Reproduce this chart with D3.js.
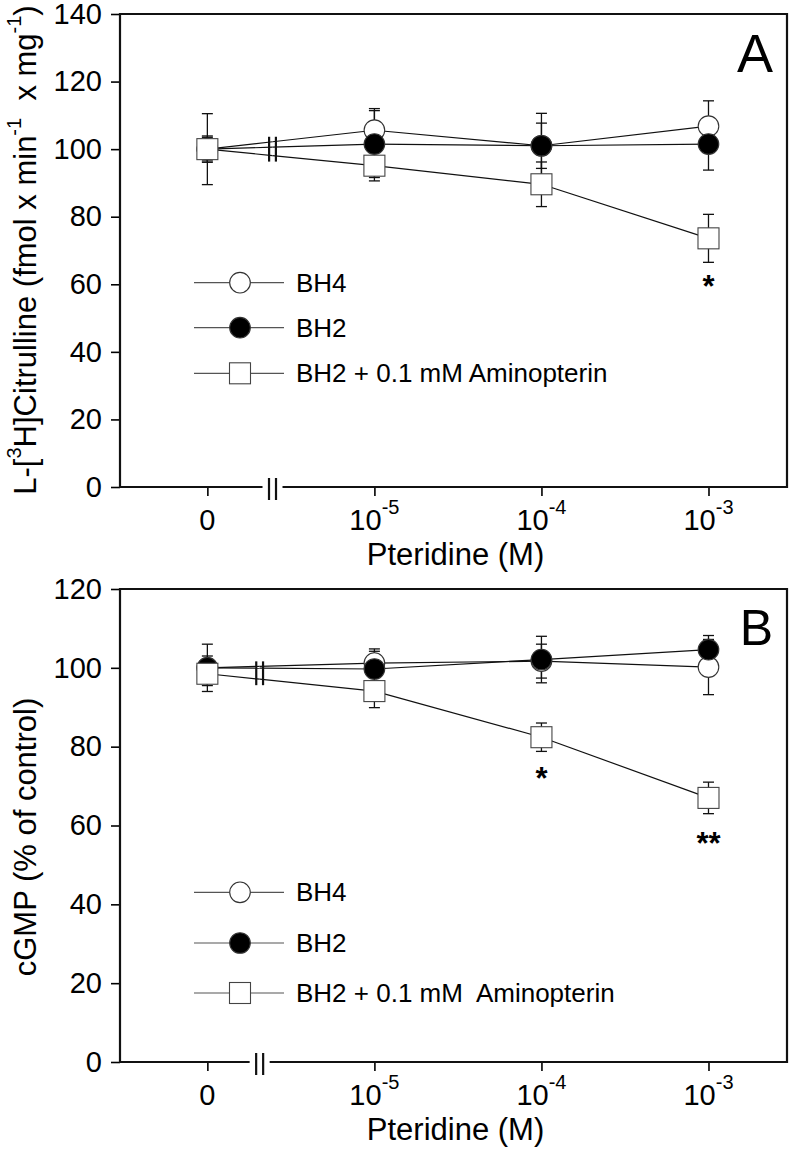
<!DOCTYPE html>
<html><head><meta charset="utf-8">
<script src="https://cdn.jsdelivr.net/npm/d3@7"></script>
<style>
body{margin:0;background:#fff}
svg{display:block}
text{font-family:"Liberation Sans", Arial, Helvetica, sans-serif; fill:#000; white-space:pre}
</style>
</head><body>
<svg id="c" width="791" height="1155"></svg>
<script>
// ---- data ----
const xCats = [0, 1, 2, 3];
const xTickBase = ["0", "10", "10", "10"];
const xTickExp = ["", "-5", "-4", "-3"];
const legendNamesA = ["BH4", "BH2", "BH2 + 0.1 mM Aminopterin"];
const legendNamesB = ["BH4", "BH2", "BH2 + 0.1 mM  Aminopterin"];
const yTicksA = [0, 20, 40, 60, 80, 100, 120, 140];
const yTicksB = [0, 20, 40, 60, 80, 100, 120];

// Panel A: L-[3H]Citrulline
const aBH4 = [100, 105.6, 101, 106.8];
const aBH4Err = [10.5, 6.4, 9.6, 7.5];
const aBH2 = [100, 101.5, 101, 101.5];
const aBH2Err = [3.5, 9.9, 6.7, 7.7];
const aAmino = [100, 95.1, 89.6, 73.6];
const aAminoErr = [3.9, 4.5, 6.6, 7.1];
const aStars = [{x: 3, y: 61.6, t: "*"}];

// Panel B: cGMP
const bBH4 = [100, 101.2, 101.7, 100.2];
const bBH4Err = [3, 3.6, 4.3, 7];
const bBH2 = [100, 99.7, 102.1, 104.6];
const bBH2Err = [6, 4.5, 5.9, 3.6];
const bAmino = [98.5, 94.1, 82.4, 67];
const bAminoErr = [3, 4.2, 3.6, 4];
const bStars = [{x: 2, y: 73.8, t: "*"}, {x: 3, y: 57.3, t: "**"}];

const svg = d3.select("#c");

function panel(cfg) {
  const x = d3.scaleLinear().domain([-0.523, 3.47]).range([cfg.left, cfg.right]);
  const y = d3.scaleLinear().domain([0, cfg.yMax]).range([cfg.bottom, cfg.top]);
  const g = svg.append("g");

  // y axis
  const ya = g.append("g").attr("transform", `translate(${cfg.left},0)`)
    .call(d3.axisLeft(y).tickValues(cfg.yTicks).tickSize(9).tickPadding(9));
  ya.select(".domain").remove();
  ya.selectAll("line").attr("stroke", "#000").attr("stroke-width", 1.6);
  ya.selectAll("text").attr("font-size", 29).attr("font-family", "Liberation Sans, Arial, sans-serif").attr("fill", "#000");

  // x axis ticks
  const xa = g.append("g").attr("transform", `translate(0,${cfg.bottom})`)
    .call(d3.axisBottom(x).tickValues(xCats).tickSize(9).tickFormat(() => ""));
  xa.select(".domain").remove();
  xa.selectAll("line").attr("stroke", "#000").attr("stroke-width", 1.6);
  xCats.forEach((c, i) => {
    const t = g.append("text").attr("x", x(c)).attr("y", cfg.bottom + 43)
      .attr("text-anchor", "middle").attr("font-size", 29);
    t.append("tspan").text(xTickBase[i]);
    if (xTickExp[i]) t.append("tspan").attr("dy", -16).attr("font-size", 20).text(xTickExp[i]);
  });

  // frame with break in bottom axis
  const bx = x(cfg.breakPos);
  const fr = g.append("g").attr("stroke", "#111").attr("stroke-width", 2.2).attr("fill", "none");
  fr.append("path").attr("d",
    `M${bx - 10},${cfg.bottom}H${cfg.left}V${cfg.top}H${cfg.right}V${cfg.bottom}H${bx + 10}`);
  fr.append("line").attr("x1", bx - 3.5).attr("x2", bx - 3.5).attr("y1", cfg.bottom - 9).attr("y2", cfg.bottom + 13);
  fr.append("line").attr("x1", bx + 3.5).attr("x2", bx + 3.5).attr("y1", cfg.bottom - 9).attr("y2", cfg.bottom + 13);

  const series = cfg.series;

  // error bars
  const eg = g.append("g").attr("stroke", "#111").attr("stroke-width", 1.3);
  series.forEach(s => {
    s.vals.forEach((v, i) => {
      const e = s.err[i];
      const cx = x(xCats[i]);
      eg.append("line").attr("x1", cx).attr("x2", cx).attr("y1", y(v - e)).attr("y2", y(v + e));
      [v - e, v + e].forEach(w => eg.append("line").attr("x1", cx - 5.5).attr("x2", cx + 5.5)
        .attr("y1", y(w)).attr("y2", y(w)));
    });
  });

  // lines with break gap
  const lg = g.append("g").attr("stroke", "#111").attr("stroke-width", 1.2).attr("fill", "none");
  const breakYs = [];
  series.forEach(s => {
    const pts = s.vals.map((v, i) => [x(xCats[i]), y(v)]);
    for (let i = 0; i < pts.length - 1; i++) {
      const p0 = pts[i], p1 = pts[i + 1];
      if (i === 0) {
        const interp = d3.interpolate(p0, p1);
        const f = xx => (xx - p0[0]) / (p1[0] - p0[0]);
        const a = interp(f(bx - 10)), b = interp(f(bx + 10));
        breakYs.push(interp(f(bx))[1]);
        lg.append("path").attr("d", `M${p0[0]},${p0[1]}L${a[0]},${a[1]}`);
        lg.append("path").attr("d", `M${b[0]},${b[1]}L${p1[0]},${p1[1]}`);
      } else {
        lg.append("path").attr("d", `M${p0[0]},${p0[1]}L${p1[0]},${p1[1]}`);
      }
    }
  });
  const yMinB = d3.min(breakYs) - 5, yMaxB = d3.max(breakYs) + 6;
  [-3.4, 3.4].forEach(o => g.append("line").attr("x1", bx + o).attr("x2", bx + o)
    .attr("y1", yMinB).attr("y2", yMaxB).attr("stroke", "#111").attr("stroke-width", 2.2));

  // markers
  function marker(sel, type, cx, cy) {
    if (type === "square") {
      sel.append("rect").attr("x", cx - 10.5).attr("y", cy - 10.5).attr("width", 21).attr("height", 21)
        .attr("fill", "#fff").attr("stroke", "#444").attr("stroke-width", 1.1);
    } else {
      sel.append("circle").attr("cx", cx).attr("cy", cy).attr("r", 10.3)
        .attr("fill", type === "filled" ? "#000" : "#fff").attr("stroke", "#333").attr("stroke-width", 1.1);
    }
  }
  const mg = g.append("g");
  series.forEach(s => s.vals.forEach((v, i) => marker(mg, s.type, x(xCats[i]), y(v))));

  // stars
  cfg.stars.forEach(st => {
    g.append("text").attr("x", x(st.x)).attr("y", y(st.y) + 0.575 * 31).attr("text-anchor", "middle")
      .attr("font-size", 31).attr("font-weight", "bold").text(st.t);
  });

  // legend
  cfg.legendRows.forEach((ry, i) => {
    g.append("line").attr("x1", 194).attr("x2", 284).attr("y1", ry).attr("y2", ry)
      .attr("stroke", "#555").attr("stroke-width", 1.2);
    marker(g, series[i].type, 240, ry);
    g.append("text").attr("x", 296).attr("y", ry + 9).attr("font-size", 26).text(cfg.legendNames[i]);
  });

  // panel letter
  g.append("text").attr("x", cfg.right - 14).attr("y", cfg.letterY).attr("text-anchor", "end")
    .attr("font-size", cfg.letterSize).text(cfg.letter);

  // x title
  g.append("text").attr("x", (cfg.left + cfg.right) / 2 + 2).attr("y", cfg.bottom + 78)
    .attr("text-anchor", "middle").attr("font-size", 31).text("Pteridine (M)");

  // y title
  const yt = g.append("text").attr("transform", `translate(36,${cfg.yTitleY}) rotate(-90)`)
    .attr("text-anchor", "middle").attr("font-size", 31);
  cfg.yTitle.forEach(p => {
    const ts = yt.append("tspan").text(p.t);
    if (p.sup) ts.attr("font-size", 20).attr("dy", -15);
    if (p.down) ts.attr("dy", 15);
  });
}

panel({
  left: 120, right: 787, top: 14, bottom: 487, yMax: 140, yTicks: yTicksA,
  breakPos: 0.39,
  series: [
    {vals: aBH4, err: aBH4Err, type: "open"},
    {vals: aBH2, err: aBH2Err, type: "filled"},
    {vals: aAmino, err: aAminoErr, type: "square"}
  ],
  stars: aStars,
  legendRows: [282.7, 327.7, 373.3], legendNames: legendNamesA,
  letter: "A", letterY: 72, letterSize: 54,
  yTitleY: 250,
  yTitle: [
    {t: "L-["}, {t: "3", sup: true}, {t: "H]Citrulline (fmol x min", down: true},
    {t: "-1", sup: true}, {t: "  x mg", down: true}, {t: "-1", sup: true}, {t: ")", down: true}
  ]
});

panel({
  left: 120, right: 787, top: 589, bottom: 1062, yMax: 120, yTicks: yTicksB,
  breakPos: 0.313,
  series: [
    {vals: bBH4, err: bBH4Err, type: "open"},
    {vals: bBH2, err: bBH2Err, type: "filled"},
    {vals: bAmino, err: bAminoErr, type: "square"}
  ],
  stars: bStars,
  legendRows: [892.3, 943, 993], legendNames: legendNamesB,
  letter: "B", letterY: 645, letterSize: 50,
  yTitleY: 837,
  yTitle: [{t: "cGMP (% of control)"}]
});
</script>
</body></html>
